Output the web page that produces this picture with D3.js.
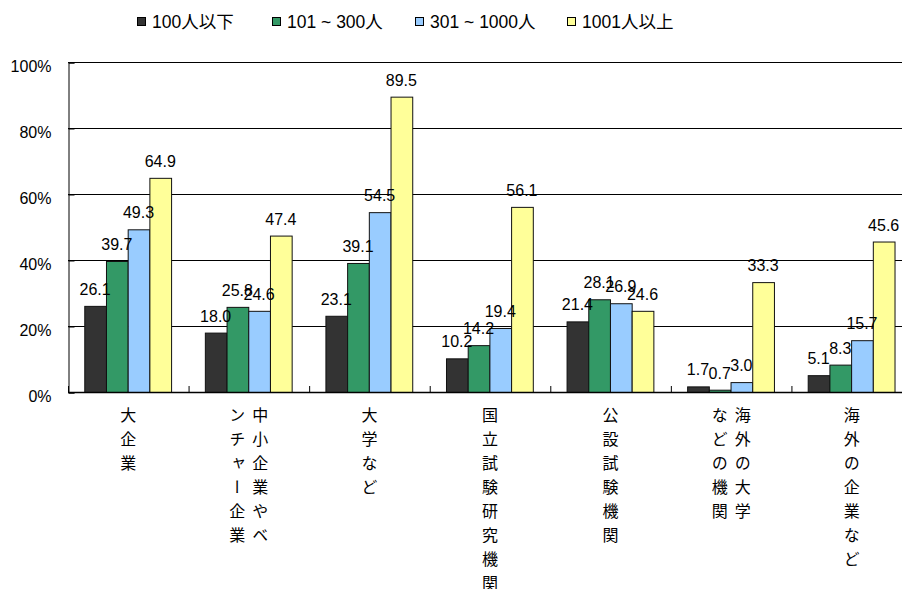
<!DOCTYPE html>
<html>
<head>
<meta charset="utf-8">
<script src="https://cdn.jsdelivr.net/npm/d3@7"></script>
<style>
  html, body { margin: 0; padding: 0; background: #fff; }
  svg { display: block; }
  text { font-family: "Liberation Sans", Arial, "Noto Sans CJK JP", sans-serif; fill: #000; }
  .cjk { font-family: "Noto Sans CJK JP", sans-serif; }
</style>
</head>
<body>
<script>
// Categories (label columns are read right-to-left, top-to-bottom)
const categories = ["大企業", "中小企業やベンチャー企業", "大学など", "国立試験研究機関", "公設試験機関", "海外の大学などの機関", "海外の企業など"];
const categoryColumns = [
  ["大企業"],
  ["中小企業やベ", "ンチャー企業"],
  ["大学など"],
  ["国立試験研究機関"],
  ["公設試験機関"],
  ["海外の大学", "などの機関"],
  ["海外の企業など"]
];

// Series names (company size) and values in percent
const seriesNames = ["100人以下", "101 ~ 300人", "301 ~ 1000人", "1001人以上"];
const under100 = [26.1, 18.0, 23.1, 10.2, 21.4, 1.7, 5.1];
const from101to300 = [39.7, 25.8, 39.1, 14.2, 28.1, 0.7, 8.3];
const from301to1000 = [49.3, 24.6, 54.5, 19.4, 26.9, 3.0, 15.7];
const over1001 = [64.9, 47.4, 89.5, 56.1, 24.6, 33.3, 45.6];
const seriesColors = ["#333333", "#339966", "#99ccff", "#ffff99"];

const yTicks = [0, 20, 40, 60, 80, 100];

const seriesValues = [under100, from101to300, from301to1000, over1001];

const W = 902, H = 589;
const plot = { left: 68, right: 912, top: 62, bottom: 392 };

const svg = d3.select("body").append("svg").attr("width", W).attr("height", H);

const x = d3.scaleBand().domain(categories).range([plot.left, plot.right]).padding(0);
const bw = x.bandwidth();
const xs = d3.scaleBand().domain(seriesNames).range([bw * 0.135, bw * 0.855]).padding(0);
const y = d3.scaleLinear().domain([0, 100]).range([plot.bottom, plot.top]);

// gridlines
svg.append("g").selectAll("line").data(yTicks.filter(t => t > 0)).join("line")
  .attr("x1", plot.left).attr("x2", plot.right)
  .attr("y1", d => y(d) + 0.5).attr("y2", d => y(d) + 0.5)
  .attr("stroke", "#000").attr("stroke-width", 1);

// y axis (ticks point inward)
const yAxis = d3.axisLeft(y).tickValues(yTicks).tickSize(-6).tickPadding(17).tickFormat(d => d + "%");
const gy = svg.append("g").attr("transform", `translate(${plot.left + 0.5},0.5)`).call(yAxis);
gy.select(".domain").attr("stroke", "#000");
gy.selectAll(".tick line").attr("stroke", "#000");
gy.selectAll(".tick text").attr("font-size", 16).attr("font-family", "Liberation Sans, Arial, sans-serif")
  .attr("fill", "#000").attr("dy", "0.55em");

// bars
const groups = svg.append("g").selectAll("g").data(categories).join("g")
  .attr("transform", d => `translate(${x(d)},0)`);

groups.each(function (cat, ci) {
  const g = d3.select(this);
  seriesNames.forEach((s, si) => {
    const v = seriesValues[si][ci];
    g.append("rect")
      .attr("x", xs(s) + 0.5)
      .attr("y", y(v) + 0.5)
      .attr("width", xs.bandwidth())
      .attr("height", y(0) - y(v))
      .attr("fill", seriesColors[si])
      .attr("stroke", "#111").attr("stroke-width", 1);
  });
  seriesNames.forEach((s, si) => {
    const v = seriesValues[si][ci];
    g.append("text")
      .attr("x", xs(s) + xs.bandwidth() / 2)
      .attr("y", y(v) - 11)
      .attr("text-anchor", "middle")
      .attr("font-size", 16)
      .text(v.toFixed(1));
  });
});

// x axis (ticks point inward)
const xAxisG = svg.append("g");
xAxisG.append("line").attr("x1", plot.left).attr("x2", plot.right)
  .attr("y1", plot.bottom + 0.5).attr("y2", plot.bottom + 0.5).attr("stroke", "#000").attr("stroke-width", 1.5);
xAxisG.selectAll(".xt").data(categories).join("line").attr("class", "xt")
  .attr("x1", d => x(d) + 0.5).attr("x2", d => x(d) + 0.5)
  .attr("y1", plot.bottom - 6).attr("y2", plot.bottom)
  .attr("stroke", "#000");

// vertical category labels
const colGap = 23, charPitch = 24, firstCharY = 415;
categories.forEach((cat, ci) => {
  const cols = categoryColumns[ci];
  const cx = x(cat) + bw / 2;
  const n = cols.length;
  cols.forEach((col, k) => {
    // column 0 is rightmost
    const colX = cx + ((n - 1) / 2 - k) * colGap;
    Array.from(col).forEach((ch, j) => {
      svg.append("text")
        .attr("class", "cjk")
        .attr("x", colX)
        .attr("y", firstCharY + j * charPitch)
        .attr("text-anchor", "middle")
        .attr("dominant-baseline", "central")
        .style("writing-mode", "vertical-rl")
        .attr("font-size", 16)
        .text(ch);
    });
  });
});

// legend
const legendX = [137, 272, 415, 567];
const legend = svg.append("g");
seriesNames.forEach((s, i) => {
  legend.append("rect").attr("x", legendX[i] + 0.5).attr("y", 17.5).attr("width", 8).attr("height", 8)
    .attr("fill", seriesColors[i]).attr("stroke", "#000");
  legend.append("text").attr("x", legendX[i] + 15).attr("y", 28)
    .attr("font-size", 17.5).text(s);
});
</script>
</body>
</html>
